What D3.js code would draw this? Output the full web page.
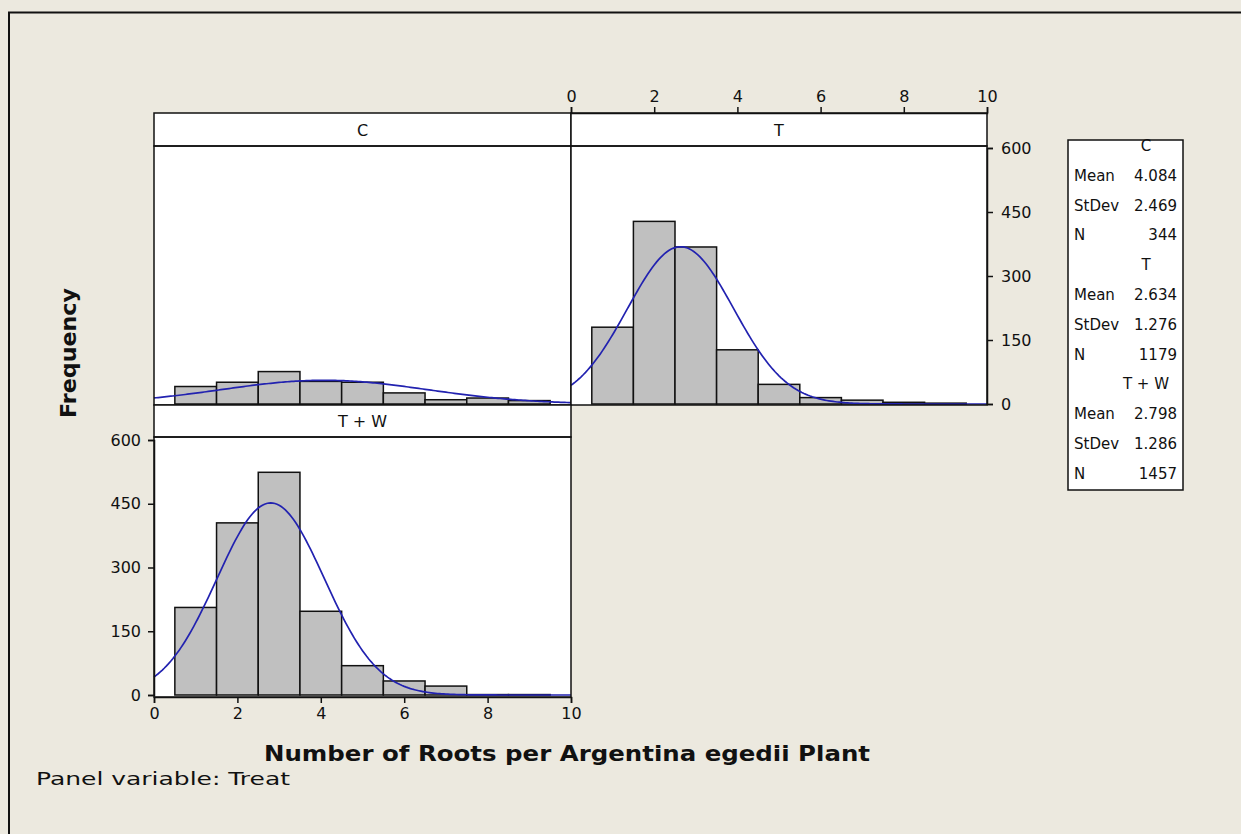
<!DOCTYPE html>
<html>
<head>
<meta charset="utf-8">
<script src="https://cdn.jsdelivr.net/npm/d3@7"></script>
<style>
  html, body { margin: 0; padding: 0; background: #ece9df; }
  svg { display: block; }
  text { font-family: "DejaVu Sans", Tahoma, sans-serif; fill: #111; }
</style>
</head>
<body>
<svg id="chart" width="1241" height="834"></svg>
<script>
// ---- Data ----
const panels = ["C", "T", "T + W"];
const binCenters = [1, 2, 3, 4, 5, 6, 7, 8, 9];
const countsC  = [41, 51, 76, 53, 51, 26, 10, 14, 8];
const countsT  = [180, 428, 368, 127, 46, 15, 9, 4, 2];
const countsTW = [206, 405, 524, 197, 69, 33, 21, 1, 1];
const means  = [4.084, 2.634, 2.798];
const stdevs = [2.469, 1.276, 1.286];
const ns     = [344, 1179, 1457];
const meanLabels  = ["4.084", "2.634", "2.798"];
const stdevLabels = ["2.469", "1.276", "1.286"];
const xTicks = [0, 2, 4, 6, 8, 10];
const yTicks = [0, 150, 300, 450, 600];
const xLabel = "Number of Roots per Argentina egedii Plant";
const yLabel = "Frequency";
const footer = "Panel variable: Treat";

const svg = d3.select("#chart");
const bg = "#ece9df";
const barFill = "#c0c0c0";
const curveColor = "#2222b0";

// outer frame
svg.append("rect").attr("x", 0).attr("y", 0).attr("width", 1241).attr("height", 834).attr("fill", bg);
svg.append("path").attr("d", "M9,834 V12.5 H1241").attr("fill", "none").attr("stroke", "#111").attr("stroke-width", 2);

// panel geometry
const colX = [[154, 571], [571, 987]];
const rows = [{stripTop: 113, stripBot: 146, plotBot: 405, y0: 404, y600: 148},
              {stripTop: 405, stripBot: 437, plotBot: 697, y0: 695, y600: 440}];
const layout = [{col: 0, row: 0}, {col: 1, row: 0}, {col: 0, row: 1}];
const countsAll = [countsC, countsT, countsTW];

const scales = layout.map(l => {
  const r = rows[l.row];
  return {
    x: d3.scaleLinear().domain([0, 10]).range(colX[l.col]),
    y: d3.scaleLinear().domain([0, 600]).range([r.y0, r.y600])
  };
});

layout.forEach((l, i) => {
  const r = rows[l.row];
  const [xa, xb] = colX[l.col];
  const g = svg.append("g");
  const sx = scales[i].x, sy = scales[i].y;
  // plot area
  g.append("rect").attr("x", xa).attr("y", r.stripBot).attr("width", xb - xa).attr("height", r.plotBot - r.stripBot)
    .attr("fill", "#fff");
  // strip
  g.append("rect").attr("x", xa).attr("y", r.stripTop).attr("width", xb - xa).attr("height", r.stripBot - r.stripTop)
    .attr("fill", "#fff").attr("stroke", "#111").attr("stroke-width", 1.5);
  g.append("text").attr("x", (xa + xb) / 2).attr("y", (r.stripTop + r.stripBot) / 2 + 6)
    .attr("text-anchor", "middle").attr("font-size", 16).text(panels[i]);
  // bars
  const data = binCenters.map((c, k) => ({c, v: countsAll[i][k]}));
  g.selectAll("rect.bar").data(data.filter(d => d.v > 0)).enter().append("rect")
    .attr("class", "bar")
    .attr("x", d => sx(d.c - 0.5)).attr("width", d => sx(d.c + 0.5) - sx(d.c - 0.5))
    .attr("y", d => sy(d.v)).attr("height", d => sy(0) - sy(d.v))
    .attr("fill", barFill).attr("stroke", "#111").attr("stroke-width", 1.5);
  // normal curve
  const m = means[i], s = stdevs[i], n = ns[i];
  const pts = d3.range(0, 10.001, 0.05).map(x => [x, n * Math.exp(-0.5 * ((x - m) / s) ** 2) / (s * Math.sqrt(2 * Math.PI))]);
  g.append("path").datum(pts)
    .attr("d", d3.line().x(d => sx(d[0])).y(d => sy(d[1])))
    .attr("fill", "none").attr("stroke", curveColor).attr("stroke-width", 1.7);
  // panel borders
  g.append("rect").attr("x", xa).attr("y", r.stripBot).attr("width", xb - xa).attr("height", r.plotBot - r.stripBot)
    .attr("fill", "none").attr("stroke", "#111").attr("stroke-width", 1.5);
});

// axes for T (top and right)
const sT = scales[1];
const topAxis = svg.append("g").attr("transform", "translate(0,113)")
  .call(d3.axisTop(sT.x).tickValues(xTicks).tickSize(6).tickPadding(5));
const rightAxis = svg.append("g").attr("transform", "translate(987,0)")
  .call(d3.axisRight(sT.y).tickValues(yTicks).tickSize(6).tickPadding(8));
// axes for T + W (left and bottom)
const sW = scales[2];
const leftAxis = svg.append("g").attr("transform", "translate(154,0)")
  .call(d3.axisLeft(sW.y).tickValues(yTicks).tickSize(6).tickPadding(7));
const bottomAxis = svg.append("g").attr("transform", "translate(0,697)")
  .call(d3.axisBottom(sW.x).tickValues(xTicks).tickSize(6).tickPadding(5));
[topAxis, rightAxis, leftAxis, bottomAxis].forEach(a => {
  a.select(".domain").attr("stroke", "#111").attr("stroke-width", 1.5);
  a.selectAll(".tick line").attr("stroke", "#111").attr("stroke-width", 1.5);
  a.selectAll(".tick text").attr("font-size", 16).attr("font-family", "DejaVu Sans, sans-serif").attr("fill", "#111");
});

// axis titles
svg.append("text").attr("x", 567).attr("y", 761).attr("text-anchor", "middle")
  .attr("font-size", 22).attr("font-weight", "bold")
  .attr("textLength", 606).attr("lengthAdjust", "spacingAndGlyphs").text(xLabel);
svg.append("text").attr("transform", "translate(76,353) rotate(-90)").attr("text-anchor", "middle")
  .attr("font-size", 21).attr("font-weight", "bold")
  .attr("textLength", 130).attr("lengthAdjust", "spacingAndGlyphs").text(yLabel);
svg.append("text").attr("x", 36).attr("y", 785).attr("font-size", 18)
  .attr("textLength", 254).attr("lengthAdjust", "spacingAndGlyphs").text(footer);

// legend
const lg = svg.append("g");
const lx0 = 1068, lx1 = 1183, ly0 = 140, ly1 = 490;
lg.append("rect").attr("x", lx0).attr("y", ly0).attr("width", lx1 - lx0).attr("height", ly1 - ly0)
  .attr("fill", "#fff").attr("stroke", "#111").attr("stroke-width", 1.5);
const rowH = 29.8;
let yy = 151;
panels.forEach((p, i) => {
  lg.append("text").attr("x", 1146).attr("y", yy).attr("text-anchor", "middle").attr("font-size", 15).text(p);
  yy += rowH;
  [["Mean", meanLabels[i]], ["StDev", stdevLabels[i]], ["N", String(ns[i])]].forEach(([k, v]) => {
    lg.append("text").attr("x", 1074).attr("y", yy).attr("font-size", 15).text(k);
    lg.append("text").attr("x", 1177).attr("y", yy).attr("text-anchor", "end").attr("font-size", 15).text(v);
    yy += rowH;
  });
});
</script>
</body>
</html>
